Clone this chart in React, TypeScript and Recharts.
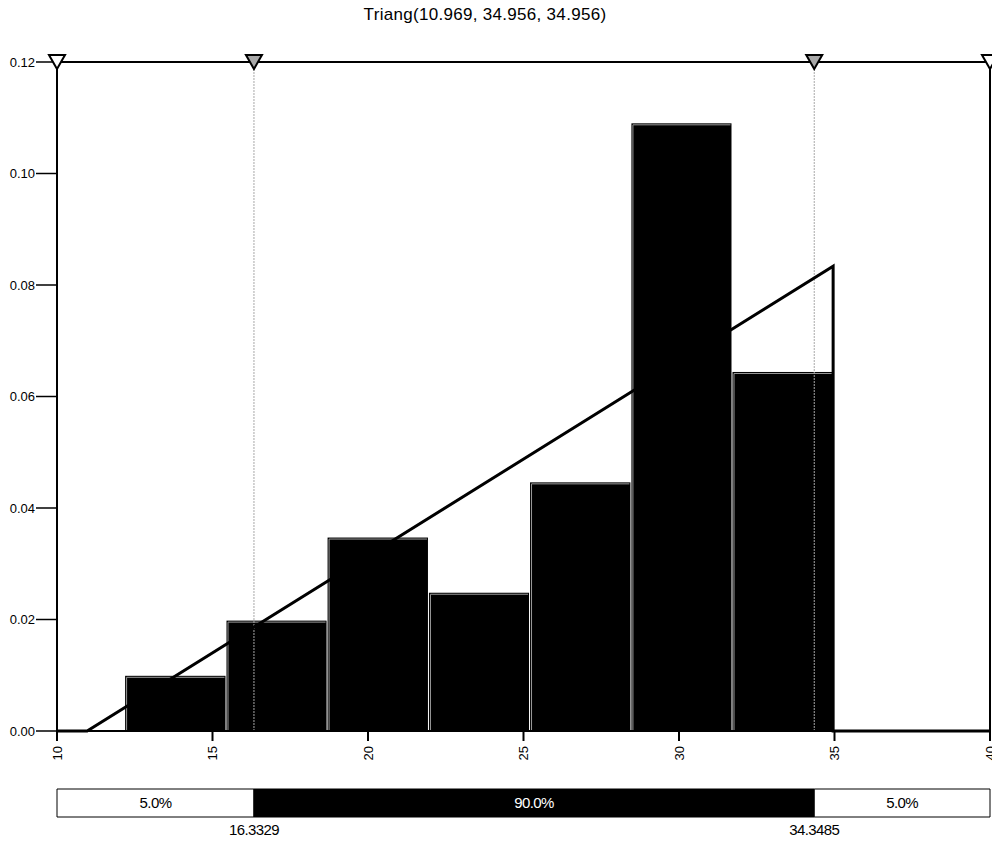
import { ComposedChart, Line, XAxis, YAxis, ReferenceArea, ReferenceLine, Scatter } from "recharts";

const TITLE = "Triang(10.969, 34.956, 34.956)";

// histogram bins (left/right edges) and densities
const binEdges = [12.19, 15.45, 18.7, 21.96, 25.21, 28.47, 31.72, 34.98];
const binDensity = [0.0099, 0.0198, 0.0347, 0.0248, 0.0446, 0.109, 0.0644];

// fitted triangular pdf
const pdfX = [10, 10.969, 34.956, 34.956, 40];
const pdfY = [0, 0, 0.08338, 0, 0];

const xTicks = [10, 15, 20, 25, 30, 35, 40];
const yTicks = [0, 0.02, 0.04, 0.06, 0.08, 0.1, 0.12];

const cutPoints = [16.3329, 34.3485];
const bandEdges = [10, 16.3329, 34.3485, 40];
const bandLabels = ["5.0%", "90.0%", "5.0%"];

const FONT = "'Liberation Sans', Arial, sans-serif";

const pdfData = pdfX.map((x, i) => ({ x, y: pdfY[i] }));
const endMarkers = [
  { x: 10, y: 0.12 },
  { x: 40, y: 0.12 },
];
const cutMarkers = cutPoints.map((x) => ({ x, y: 0.12 }));
// band row spans 0..1 on a hidden axis
const bandData = bandEdges.map((x) => ({ x, top: 1 }));

function triangle(fill: string) {
  return (props: any) => {
    const { cx, cy } = props;
    return (
      <path
        d={`M${cx - 8},${cy - 7} L${cx + 8},${cy - 7} L${cx},${cy + 7} Z`}
        fill={fill}
        stroke="#000"
        strokeWidth={2}
      />
    );
  };
}

function HistBar(props: any) {
  const { x, y, width, height } = props;
  return (
    <g>
      <rect x={x} y={y} width={width - 1} height={height} fill="#000" />
      <path
        d={`M${x + 1.5},${y + height} L${x + 1.5},${y + 1.5} L${x + width - 2},${y + 1.5}`}
        fill="none"
        stroke="#9a9a9a"
        strokeWidth={1}
      />
    </g>
  );
}

function XTick({ x, y, payload }: any) {
  return (
    <text
      x={0}
      y={0}
      transform={`translate(${x},${y}) rotate(-90)`}
      textAnchor="end"
      dominantBaseline="central"
      fontSize={13}
      fontFamily={FONT}
      fill="#000"
    >
      {payload.value}
    </text>
  );
}

function CutTick({ x, y, payload }: any) {
  return (
    <text x={x} y={y + 10} textAnchor="middle" fontSize={15} fontFamily={FONT} letterSpacing={-0.6} fill="#000">
      {Number(payload.value).toFixed(4)}
    </text>
  );
}

export default function App() {
  return (
    <div style={{ position: "absolute", left: 0, top: 0, width: 992, height: 844, background: "#fff" }}>
      <div
        style={{
          position: "absolute",
          left: 485,
          top: 5,
          transform: "translateX(-50%)",
          fontFamily: FONT,
          fontSize: 17,
          letterSpacing: 0.3,
          whiteSpace: "nowrap",
        }}
      >
        {TITLE}
      </div>

      <div style={{ position: "absolute", left: 0, top: 0 }}>
        <ComposedChart width={992} height={770} data={pdfData} margin={{ top: 62, right: 2, left: 0, bottom: 0 }}>
          <XAxis
            dataKey="x"
            type="number"
            domain={[10, 40]}
            ticks={xTicks}
            interval={0}
            height={39}
            tickSize={10}
            tickMargin={5}
            axisLine={{ stroke: "#000", strokeWidth: 2 }}
            tickLine={{ stroke: "#000", strokeWidth: 2 }}
            tick={<XTick />}
          />
          <YAxis
            type="number"
            domain={[0, 0.12]}
            ticks={yTicks}
            interval={0}
            width={57}
            tickSize={21}
            tickMargin={1}
            tickFormatter={(v: number) => v.toFixed(2)}
            axisLine={{ stroke: "#000", strokeWidth: 2 }}
            tickLine={{ stroke: "#000", strokeWidth: 1.5 }}
            tick={{ fontSize: 13, fontFamily: FONT, fill: "#000" }}
          />
          {binDensity.map((d, i) => (
            <ReferenceArea
              key={i}
              x1={binEdges[i]}
              x2={binEdges[i + 1]}
              y1={0}
              y2={d}
              fill="#000"
              fillOpacity={1}
              shape={<HistBar />}
            />
          ))}
          {cutPoints.map((c) => (
            <ReferenceLine key={c} x={c} stroke="#a8a8a8" strokeWidth={1} strokeDasharray="2 1" />
          ))}
          <ReferenceLine y={0.12} stroke="#000" strokeWidth={2} />
          <ReferenceLine x={40} stroke="#000" strokeWidth={2} />
          <Line
            dataKey="y"
            type="linear"
            stroke="#000"
            strokeWidth={3}
            dot={false}
            isAnimationActive={false}
          />
          <Scatter data={endMarkers} dataKey="y" shape={triangle("#fff")} isAnimationActive={false} />
          <Scatter data={cutMarkers} dataKey="y" shape={triangle("#a8a8a8")} isAnimationActive={false} />
        </ComposedChart>
      </div>

      <div style={{ position: "absolute", left: 0, top: 788 }}>
        <ComposedChart width={992} height={56} data={bandData} margin={{ top: 1, right: 2, left: 57, bottom: 0 }}>
          <XAxis
            dataKey="x"
            type="number"
            domain={[10, 40]}
            ticks={cutPoints}
            interval={0}
            height={27}
            axisLine={false}
            tickLine={false}
            tick={<CutTick />}
          />
          <YAxis type="number" domain={[0, 1]} hide />
          <Line dataKey="top" stroke="none" dot={false} isAnimationActive={false} />
          {bandLabels.map((lab, i) => (
            <ReferenceArea
              key={i}
              x1={bandEdges[i]}
              x2={bandEdges[i + 1]}
              y1={0}
              y2={1}
              ifOverflow="visible"
              fill={i === 1 ? "#000" : "#fff"}
              fillOpacity={1}
              stroke="#000"
              strokeWidth={1}
              label={{
                value: lab,
                position: "center",
                fill: i === 1 ? "#fff" : "#000",
                fontSize: 15,
                fontFamily: FONT,
                letterSpacing: -0.6,
              }}
            />
          ))}
        </ComposedChart>
      </div>
    </div>
  );
}
